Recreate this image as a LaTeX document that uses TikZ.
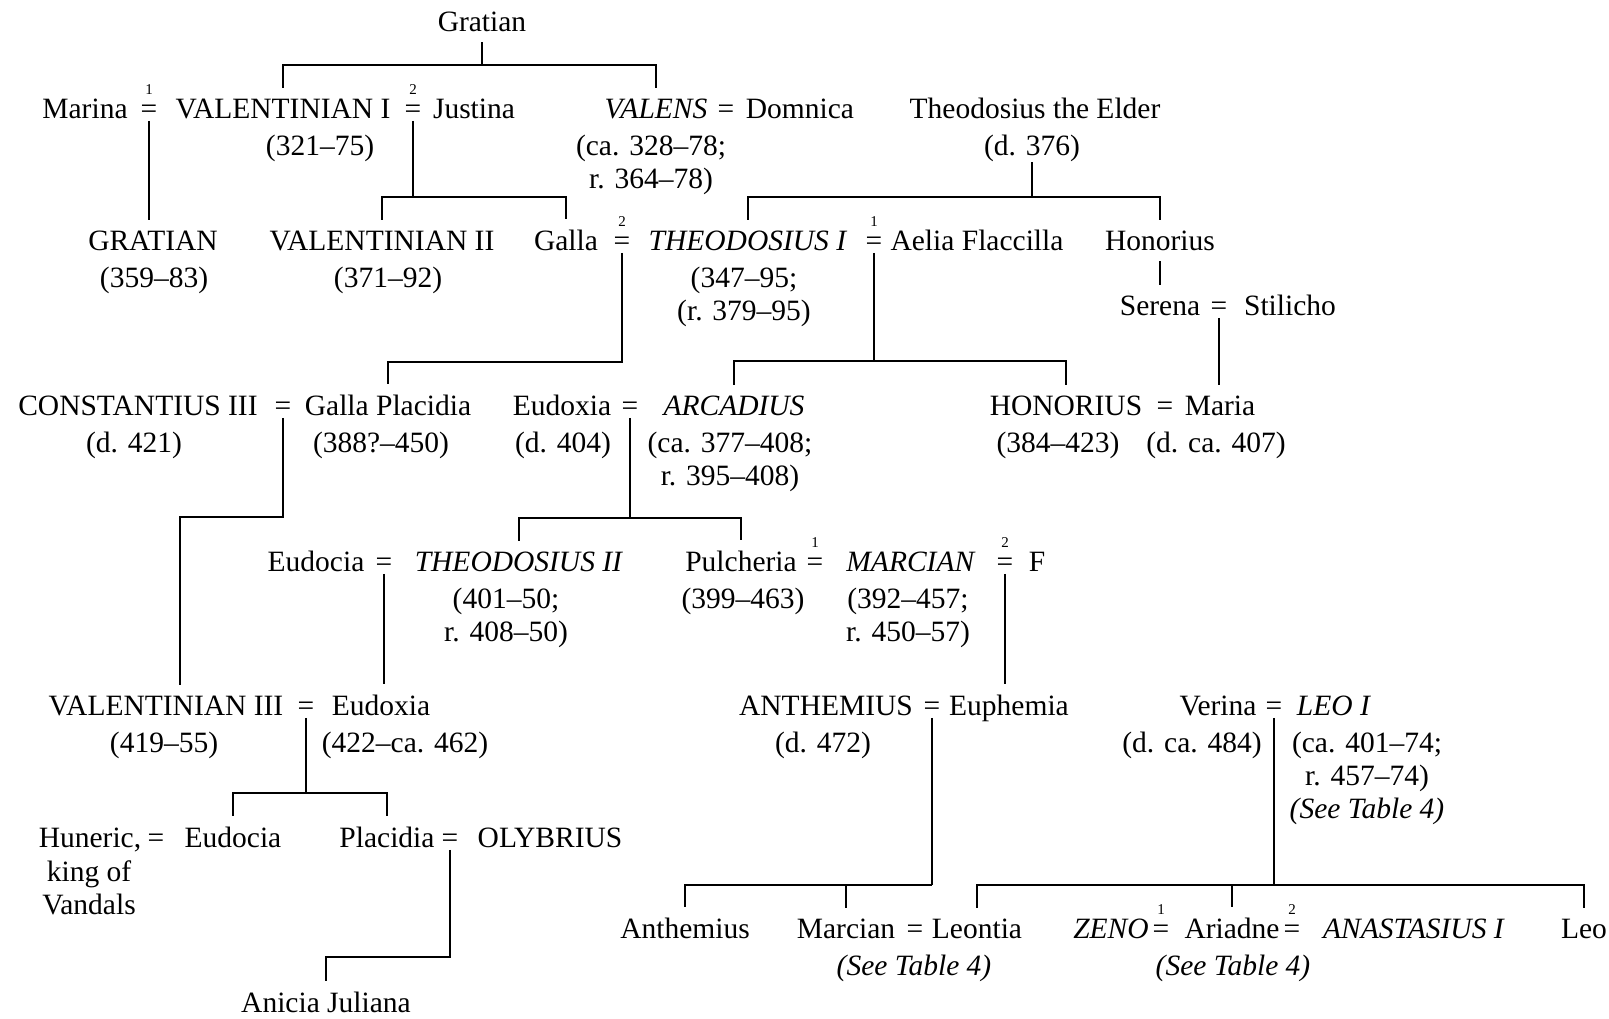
\documentclass[tikz,border=0pt]{standalone}
\usepackage{fontspec}
\setmainfont{Liberation Serif}

\begin{document}
\begin{tikzpicture}[x=1pt, y=-1pt, line width=1.6pt,
    every node/.style={font=\fontsize{29.5}{33}\selectfont},
    person/.style={anchor=base, inner xsep=0pt, inner ysep=10pt},
    dates/.style={anchor=north, align=center, inner sep=0pt},
    wed/.style={anchor=base, inner xsep=0pt, inner ysep=2pt},
    num/.style={font=\fontsize{15}{15}\selectfont, inner sep=0pt, label distance=6pt}]
  \useasboundingbox (0,0) rectangle (1609,1018);

  \node[person] (gratianE) at (482,31) {Gratian};
  \node[person] (marina) at (85,118) {Marina};
  \node[wed, label={[num]above:1}] (wMV) at (149,118) {=};
  \node[person] (valI) at (283,118) {VALENTINIAN I};
  \node[wed, label={[num]above:2}] (wVJ) at (413,118) {=};
  \node[person] (justina) at (474,118) {Justina};
  \node[person] (valens) at (656,118) {\textit{VALENS}};
  \node[wed] (wVD) at (726,118) {=};
  \node[person] (domnica) at (800,118) {Domnica};
  \node[person] (elder) at (1035,118) {Theodosius the Elder};
  \node[dates] (valId) at (320,134) {(321--75)};
  \node[dates] (valensd) at (651,134) {(ca. 328--78;\\r. 364--78)};
  \node[dates] (elderd) at (1032,134) {(d. 376)};

  \node[person] (gratianS) at (153,250) {GRATIAN};
  \node[person] (valII) at (382,250) {VALENTINIAN II};
  \node[person] (galla) at (566,250) {Galla};
  \node[wed, label={[num]above:2}] (wGT) at (622,250) {=};
  \node[person] (theoI) at (748,250) {\textit{THEODOSIUS I}};
  \node[wed, label={[num]above:1}] (wTA) at (874,250) {=};
  \node[person] (aelia) at (977,250) {Aelia Flaccilla};
  \node[person] (honorius) at (1160,250) {Honorius};
  \node[dates] (gratianSd) at (154,266) {(359--83)};
  \node[dates] (valIId) at (388,266) {(371--92)};
  \node[dates] (theoId) at (744,266) {(347--95;\\(r. 379--95)};

  \node[person] (serena) at (1160,315) {Serena};
  \node[wed] (wSS) at (1219,315) {=};
  \node[person] (stilicho) at (1290,315) {Stilicho};

  \node[person] (constantius) at (138,415) {CONSTANTIUS III};
  \node[wed] (wCG) at (283,415) {=};
  \node[person] (placidiaG) at (388,415) {Galla Placidia};
  \node[person] (eudoxiaA) at (562,415) {Eudoxia};
  \node[wed] (wEA) at (630,415) {=};
  \node[person] (arcadius) at (734,415) {\textit{ARCADIUS}};
  \node[person] (honoriusE) at (1066,415) {HONORIUS};
  \node[wed] (wHM) at (1165,415) {=};
  \node[person] (maria) at (1220,415) {Maria};
  \node[dates] (constantiusd) at (134,431) {(d. 421)};
  \node[dates] (placidiaGd) at (381,431) {(388?--450)};
  \node[dates] (eudoxiaAd) at (563,431) {(d. 404)};
  \node[dates] (arcadiusd) at (730,431) {(ca. 377--408;\\r. 395--408)};
  \node[dates] (honoriusEd) at (1058,431) {(384--423)};
  \node[dates] (mariad) at (1216,431) {(d. ca. 407)};

  \node[person] (eudocia) at (316,571) {Eudocia};
  \node[wed] (wET) at (384,571) {=};
  \node[person] (theoII) at (519,571) {\textit{THEODOSIUS II}};
  \node[person] (pulcheria) at (741,571) {Pulcheria};
  \node[wed, label={[num]above:1}] (wPM) at (815,571) {=};
  \node[person] (marcian) at (911,571) {\textit{MARCIAN}};
  \node[wed, label={[num]above:2}] (wMF) at (1005,571) {=};
  \node[person] (fwife) at (1037,571) {F};
  \node[dates] (theoIId) at (506,587) {(401--50;\\r. 408--50)};
  \node[dates] (pulcheriad) at (743,587) {(399--463)};
  \node[dates] (marciand) at (908,587) {(392--457;\\r. 450--57)};

  \node[person] (valIII) at (166,715) {VALENTINIAN III};
  \node[wed] (wVE) at (306,715) {=};
  \node[person] (eudoxiaV) at (381,715) {Eudoxia};
  \node[person] (anthemiusE) at (826,715) {ANTHEMIUS};
  \node[wed] (wAE) at (932,715) {=};
  \node[person] (euphemia) at (1009,715) {Euphemia};
  \node[person] (verina) at (1218,715) {Verina};
  \node[wed] (wVL) at (1274,715) {=};
  \node[person] (leoI) at (1334,715) {\textit{LEO I}};
  \node[dates] (valIIId) at (164,731) {(419--55)};
  \node[dates] (eudoxiaVd) at (405,731) {(422--ca. 462)};
  \node[dates] (anthemiusEd) at (823,731) {(d. 472)};
  \node[dates] (verinad) at (1192,731) {(d. ca. 484)};
  \node[dates] (leoId) at (1367,731) {(ca. 401--74;\\r. 457--74)\\\textit{(See Table 4)}};

  \node[person] (huneric) at (90,847) {Huneric,};
  \node[wed] (wHE) at (156,847) {=};
  \node[person] (eudociaH) at (233,847) {Eudocia};
  \node[person] (placidia) at (387,847) {Placidia};
  \node[wed] (wPO) at (450,847) {=};
  \node[person] (olybrius) at (550,847) {OLYBRIUS};
  \node[dates] (hunericd) at (89,860) {king of\\Vandals};

  \node[person] (anthemiusY) at (685,938) {Anthemius};
  \node[person] (marcianY) at (846,938) {Marcian};
  \node[wed] (wML) at (915,938) {=};
  \node[person] (leontia) at (977,938) {Leontia};
  \node[person] (zeno) at (1111,938) {\textit{ZENO}};
  \node[wed, label={[num]above:1}] (wZA) at (1161,938) {=};
  \node[person] (ariadne) at (1232,938) {Ariadne};
  \node[wed, label={[num]above:2}] (wAA) at (1292,938) {=};
  \node[person] (anastasius) at (1414,938) {\textit{ANASTASIUS I}};
  \node[person] (leoY) at (1584,938) {Leo};
  \node[dates] (marcianYd) at (914,954) {\textit{(See Table 4)}};
  \node[dates] (ariadned) at (1233,954) {\textit{(See Table 4)}};

  \node[person] (anicia) at (326,1012) {Anicia Juliana};

  \coordinate (jG) at (483,65);
  \coordinate (jVJ) at (413,197);
  \coordinate (jE) at (1035,197);
  \coordinate (jGT) at (622,362);
  \coordinate (jTA) at (874,361);
  \coordinate (jCG) at (283,517);
  \coordinate (jEA) at (630,518);
  \coordinate (jVE) at (306,793);
  \coordinate (jPO) at (450,957);
  \coordinate (jAE) at (932,885);
  \coordinate (jVL) at (1274,885);

  \draw (gratianE.south) |- (jG);
  \draw (valI.north) |- (jG) -| (valens.north);
  \draw (wMV.south) -- (wMV.south |- gratianS.north);
  \draw (wVJ.south) |- (jVJ);
  \draw (valII.north) |- (jVJ) -| (galla.north);
  \draw (elderd.south) |- (jE);
  \draw (theoI.north) |- (jE) -| (honorius.north);
  \draw (honorius) -- (serena);
  \draw (wGT.south) |- (jGT) -| (placidiaG.north);
  \draw (wTA.south) |- (jTA);
  \draw (arcadius.north) |- (jTA) -| (honoriusE.north);
  \draw (wSS.south) -- (wSS.south |- maria.north);
  \draw (wCG.south) |- (jCG) -| ([xshift=14pt]valIII.north);
  \draw (wEA.south) |- (jEA);
  \draw (theoII.north) |- (jEA) -| (pulcheria.north);
  \draw (wET.south) -- (wET.south |- eudoxiaV.north);
  \draw (wMF.south) -- (wMF.south |- euphemia.north);
  \draw (wVE.south) |- (jVE);
  \draw (eudociaH.north) |- (jVE) -| (placidia.north);
  \draw (wPO.south) |- (jPO) -| (anicia.north);
  \draw (wAE.south) |- (jAE);
  \draw (anthemiusY.north) |- (jAE);
  \draw (marcianY.north) -- (marcianY.north |- jAE);
  \draw (wVL.south) |- (jVL);
  \draw (leontia.north) |- (jVL) -| (leoY.north);
  \draw (ariadne.north) -- (ariadne.north |- jVL);
\end{tikzpicture}
\end{document}
